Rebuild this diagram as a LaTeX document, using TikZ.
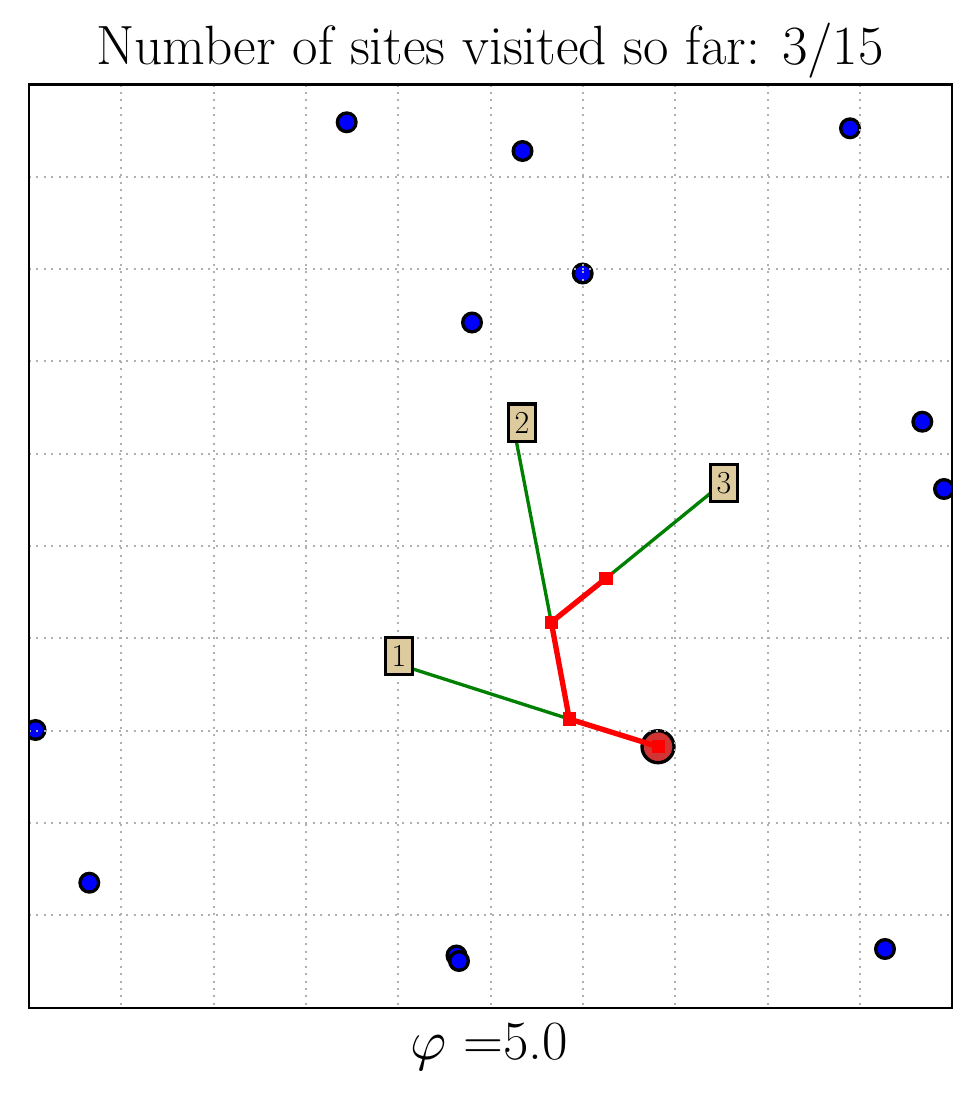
\documentclass[tikz,border=0pt]{standalone}
\DeclareFontShape{OML}{cmm}{m}{it}{<->cmmi10}{}
\begin{document}
\begin{tikzpicture}[x=0.75pt,y=-0.75pt,
  site/.style={circle,draw=black,fill=blue,line width=2.5pt,minimum size=14pt,inner sep=0pt},
  cur/.style={circle,draw=black,fill=curred,line width=2.5pt,minimum size=24pt,inner sep=0pt},
  gridln/.style={draw=gridgray,line width=1.5pt,dash pattern=on 1.5pt off 4.1pt},
  vis/.style={draw=black,fill=boxtan,line width=2.5pt,minimum width=20.5pt,minimum height=28pt,inner sep=0pt,font=\fontsize{24}{27}\selectfont},
  pathsq/.style={rectangle,fill=red,minimum size=10pt,inner sep=0pt},
  greenln/.style={draw=darkgreen,line width=2.5pt},
  redln/.style={draw=red,line width=4pt}]
\definecolor{curred}{RGB}{210,52,52}
\definecolor{gridgray}{RGB}{176,176,176}
\definecolor{boxtan}{RGB}{221,203,158}
\definecolor{darkgreen}{RGB}{0,128,0}
\useasboundingbox (0,0) rectangle (980,1093);
% title and axis label
\node[font=\fontsize{41.5}{48}\selectfont,anchor=base] (title) at (490,64) {Number of sites visited so far: 3/15};
\node[font=\fontsize{41.5}{48}\selectfont,anchor=base] (xlab) at (489,1059) {$\varphi$ =5.0};
% clipped plot content
\begin{scope}
\clip (29,84.5) rectangle (952.3,1007.7);
\node[site] (p1) at (346.7,122.3) {};
\node[site] (p2) at (522.5,151) {};
\node[site] (p3) at (850,128.3) {};
\node[site] (p4) at (582.7,273.5) {};
\node[site] (p5) at (472,322.5) {};
\node[site] (p6) at (922.3,421.7) {};
\node[site] (p7) at (944,489) {};
\node[site] (p8) at (35.5,730) {};
\node[site] (p9) at (89.3,882.7) {};
\node[site] (p10) at (456.5,955.5) {};
\node[site] (p11) at (459,961) {};
\node[site] (p12) at (885,949) {};
\node[cur] (c) at (658,746.7) {};
% grid
\foreach \k in {1,...,9} {
  \draw[gridln] ({29+\k*92.33},84.5) -- ({29+\k*92.33},1007.7);
  \draw[gridln] (29,{84.5+\k*92.32}) -- (952.3,{84.5+\k*92.32});
}
% path nodes
\coordinate (r0) at (658.3,746.7);
\coordinate (r1) at (569.3,719);
\coordinate (r2) at (551.3,622.3);
\coordinate (r3) at (606,578.3);
\coordinate (e1) at (409.2,667.8);
\coordinate (e2) at (515.8,438.4);
\coordinate (e3) at (712.2,491.8);
\draw[greenln] (e1) -- (r1);
\draw[greenln] (e2) -- (r2);
\draw[greenln] (e3) -- (r3);
\draw[redln] (r0) -- (r1) -- (r2) -- (r3);
\node[pathsq] (s0) at (r0) {};
\node[pathsq] (s1) at (r1) {};
\node[pathsq] (s2) at (r2) {};
\node[pathsq] (s3) at (r3) {};
\node[vis] (b1) at (399,656) {1};
\node[vis] (b2) at (522,422.5) {2};
\node[vis] (b3) at (724,483) {3};
\end{scope}
\draw[line width=1.7pt] (29,84.5) rectangle (952.3,1007.7);
\end{tikzpicture}
\end{document}
